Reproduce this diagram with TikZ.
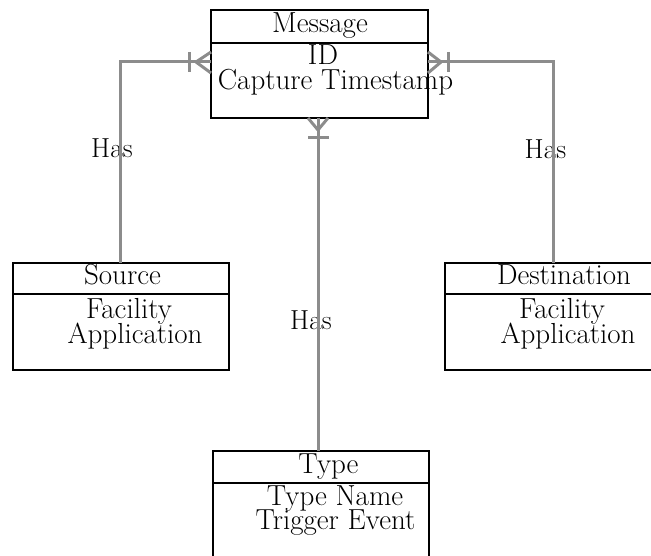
\documentclass[tikz,border=0pt]{standalone}
\usetikzlibrary{calc}
\begin{document}
\begin{tikzpicture}[x=1pt,y=-1pt,
  box/.style={draw=black, line width=2pt, fill=white, inner sep=0pt, outer sep=0pt},
  rule/.style={draw=black, line width=2pt},
  rel/.style={draw=black!45, line width=3pt},
  txt/.style={font=\fontsize{29}{25}\selectfont, inner sep=0pt, anchor=base},
  lbl/.style={font=\fontsize{27.5}{25}\selectfont, inner sep=0pt, anchor=base}]
\useasboundingbox (0,0) rectangle (651,556);
\clip (0,0) rectangle (651,556);

% entity boxes
\node[box, minimum width=217pt, minimum height=108pt] (msg) at (319.5,64) {};
\node[box, minimum width=216.5pt, minimum height=107pt] (src) at (120.75,316.5) {};
\node[box, minimum width=216pt, minimum height=107pt] (dst) at (553,316.5) {};
\node[box, minimum width=216pt, minimum height=120pt] (typ) at (321,511) {};

% header separators
\draw[rule] ([yshift=-33pt]msg.north west) -- ([yshift=-33pt]msg.north east);
\draw[rule] ([yshift=-31pt]src.north west) -- ([yshift=-31pt]src.north east);
\draw[rule] ([yshift=-31pt]dst.north west) -- ([yshift=-31pt]dst.north east);
\draw[rule] ([yshift=-32pt]typ.north west) -- ([yshift=-32pt]typ.north east);

% entity texts
\node[txt] (msgh) at (320,33) {Message};
\node[txt] (msga) at (323,65) {ID};
\node[txt] (msgb) at (335.5,90) {Capture Timestamp};

\node[txt] (srch) at (122.5,285) {Source};
\node[txt] (srca) at (129,318) {Facility};
\node[txt] (srcb) at (135,343) {Application};

\node[txt] (dsth) at (564,285) {Destination};
\node[txt] (dsta) at (562,318) {Facility};
\node[txt] (dstb) at (568,343) {Application};

\node[txt] (typh) at (328.5,473) {Type};
\node[txt] (typa) at (335,505) {Type Name};
\node[txt] (typb) at (335.5,529) {Trigger Event};

% relationship labels
\node[lbl] (hasl) at (112,158) {Has};
\node[lbl] (hasm) at (311,330) {Has};
\node[lbl] (hasr) at (545.5,159) {Has};

% attachment points on the Message box
\coordinate (ml) at ([yshift=2pt]msg.west);
\coordinate (mr) at ([yshift=2pt]msg.east);
\coordinate (mb) at ([xshift=-1.5pt]msg.south);

% connectors
\draw[rel] (src.north) |- (ml);
\draw[rel] (dst.north) |- (mr);
\draw[rel] (mb) -- (mb |- typ.north);

% crow's feet: one-or-many at the Message end
\draw[rel] ($(ml)+(-15,0)$) -- ($(ml)+(0,-10)$);
\draw[rel] ($(ml)+(-15,0)$) -- ($(ml)+(0,11)$);
\draw[rel] ($(ml)+(-22,-10)$) -- ($(ml)+(-22,10)$);

\draw[rel] ($(mr)+(13,0)$) -- ($(mr)+(0,-10)$);
\draw[rel] ($(mr)+(13,0)$) -- ($(mr)+(0,11)$);
\draw[rel] ($(mr)+(20,-10)$) -- ($(mr)+(20,10)$);

\draw[rel] ($(mb)+(0,12)$) -- ($(mb)+(-10,0)$);
\draw[rel] ($(mb)+(0,12)$) -- ($(mb)+(10,0)$);
\draw[rel] ($(mb)+(-10,20)$) -- ($(mb)+(10.5,20)$);
\end{tikzpicture}
\end{document}
